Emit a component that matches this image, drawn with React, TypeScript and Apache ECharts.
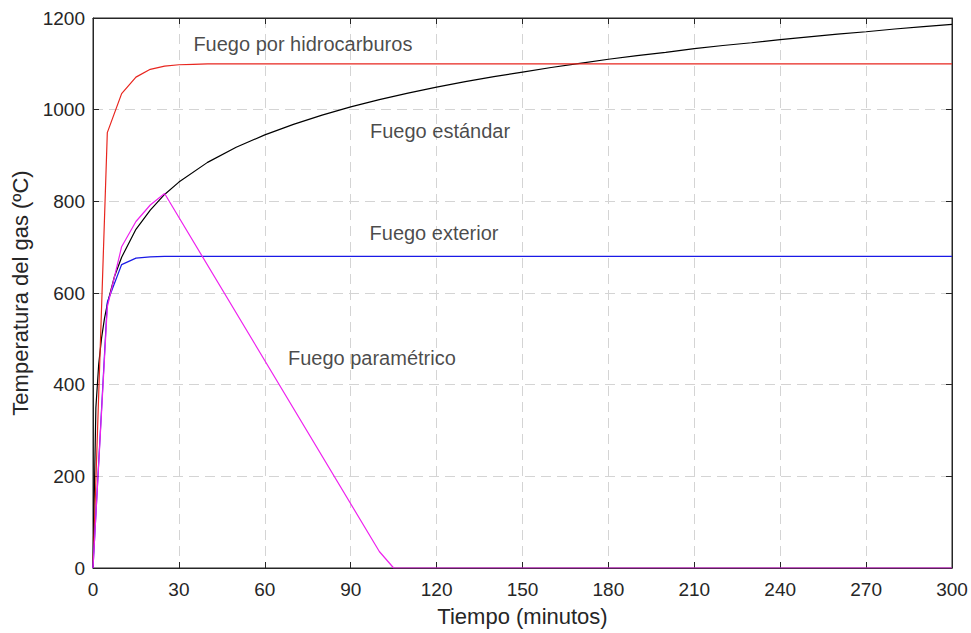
import React, { useEffect, useRef } from "react";
import * as echarts from "echarts";

// Tiempo (minutos) for each curve
const standardT = [0, 1, 2, 3, 4, 5, 7.5, 10, 15, 20, 25, 30, 40, 50, 60, 70, 80, 90, 100, 110, 120, 130, 140, 150, 160, 170, 180, 190, 200, 210, 220, 230, 240, 250, 260, 270, 280, 290, 300];
const standardV = [0, 349, 445, 502, 544, 576, 636, 678, 739, 781, 815, 842, 885, 918, 945, 968, 988, 1006, 1022, 1036, 1049, 1061, 1072, 1082, 1092, 1101, 1110, 1118, 1125, 1133, 1140, 1146, 1153, 1159, 1165, 1170, 1176, 1181, 1186];

const hydroT = [0, 5, 10, 15, 20, 25, 30, 35, 40, 50, 300];
const hydroV = [0, 950, 1035, 1071, 1088, 1095, 1098, 1099, 1100, 1100, 1100];

const externalT = [0, 5, 10, 15, 20, 25, 30, 300];
const externalV = [0, 580, 662, 676, 679, 680, 680, 680];

const paramT = [0, 5, 10, 15, 20, 25, 100, 105, 300];
const paramV = [0, 570, 701, 756, 792, 817, 36, 0, 0];

const xTicks = { min: 0, max: 300, interval: 30 };
const yTicks = { min: 0, max: 1200, interval: 200 };

const labels = [
  { text: "Fuego por hidrocarburos", t: 73.3, v: 1143 },
  { text: "Fuego estándar", t: 121.2, v: 953 },
  { text: "Fuego exterior", t: 119.1, v: 731 },
  { text: "Fuego paramétrico", t: 97.4, v: 458 },
];

const zip = (a: number[], b: number[]) => a.map((x, i) => [x, b[i]]);

export default function App() {
  const ref = useRef<HTMLDivElement>(null);
  useEffect(() => {
    if (!ref.current) return;
    const chart = echarts.init(ref.current, null, { renderer: "svg" });
    const font = "Liberation Sans, Arial, Helvetica, sans-serif";
    const axisColor = "#262626";
    const lineSeries = (name: string, data: number[][], color: string) => ({
      name,
      type: "line",
      data,
      showSymbol: false,
      symbol: "none",
      lineStyle: { color, width: 1.2 },
      emphasis: { disabled: true },
    });
    const tick = { show: true, inside: true, length: 6, lineStyle: { color: axisColor } };
    const line = { show: true, onZero: false, lineStyle: { color: axisColor, width: 1 } };
    const split = { show: true, lineStyle: { color: "#d4d4d4", type: [10, 6], width: 1 } };
    chart.setOption({
      animation: false,
      backgroundColor: "#ffffff",
      grid: {
        left: 93, right: 19, top: 18, bottom: 65,
        show: true, borderColor: axisColor, borderWidth: 1, backgroundColor: "transparent",
      },
      xAxis: [
        {
          type: "value",
          ...xTicks,
          name: "Tiempo (minutos)",
          nameLocation: "middle",
          nameGap: 37,
          nameTextStyle: { fontFamily: font, fontSize: 22, color: axisColor },
          axisLine: line,
          axisTick: tick,
          axisLabel: { fontFamily: font, fontSize: 19, color: axisColor, margin: 12, formatter: (v: number) => String(v) },
          splitLine: split,
        },
        {
          type: "value",
          ...xTicks,
          position: "top",
          axisLine: line,
          axisTick: tick,
          axisLabel: { show: false },
          splitLine: { show: false },
        },
      ],
      yAxis: [
        {
          type: "value",
          ...yTicks,
          name: "Temperatura del gas (ºC)",
          nameLocation: "middle",
          nameGap: 60,
          nameTextStyle: { fontFamily: font, fontSize: 22, color: axisColor },
          axisLine: line,
          axisTick: tick,
          axisLabel: { fontFamily: font, fontSize: 19, color: axisColor, margin: 8, formatter: (v: number) => String(v) },
          splitLine: split,
        },
        {
          type: "value",
          ...yTicks,
          position: "right",
          axisLine: line,
          axisTick: tick,
          axisLabel: { show: false },
          splitLine: { show: false },
        },
      ],
      series: [
        lineSeries("Fuego estándar", zip(standardT, standardV), "#000000"),
        lineSeries("Fuego por hidrocarburos", zip(hydroT, hydroV), "#e8261f"),
        lineSeries("Fuego exterior", zip(externalT, externalV), "#1a1ae6"),
        lineSeries("Fuego paramétrico", zip(paramT, paramV), "#ee22ee"),
        {
          type: "line",
          xAxisIndex: 1,
          yAxisIndex: 1,
          data: [],
          silent: true,
        },
        {
          type: "scatter",
          data: labels.map((l) => ({ value: [l.t, l.v], name: l.text })),
          symbolSize: 0,
          silent: true,
          label: {
            show: true,
            position: "inside",
            formatter: (p: any) => p.name,
            fontFamily: font,
            fontSize: 20,
            color: "#1a1a1a",
          },
        },
      ],
    });
    return () => chart.dispose();
  }, []);
  return (
    <div
      ref={ref}
      style={{ position: "absolute", left: 0, top: 0, width: 971, height: 633 }}
    />
  );
}
